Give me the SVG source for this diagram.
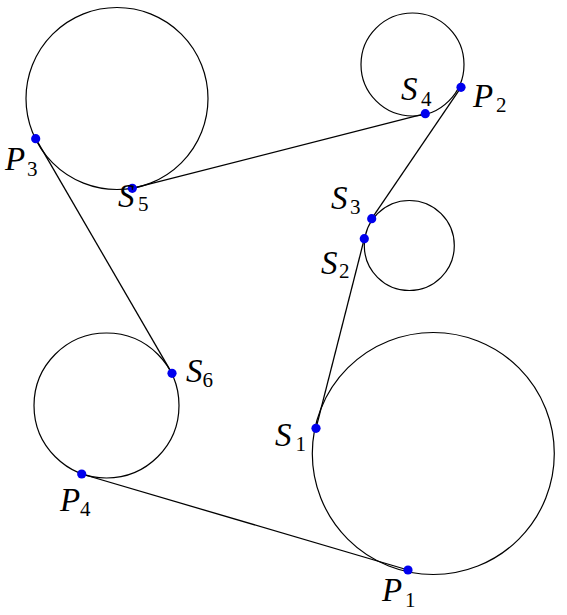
<svg xmlns="http://www.w3.org/2000/svg" width="567" height="615" viewBox="0 0 567 615">
<style>
.c{fill:none;stroke:#000;stroke-width:1.2}
.e{stroke:#000;stroke-width:1.3;fill:none}
.d{fill:#0000ee}
.l{font-family:"Liberation Serif",serif;font-style:italic;font-size:33px;fill:#000}
.s{font-family:"Liberation Serif",serif;font-style:normal;font-size:21px;fill:#000}
</style>
<rect width="567" height="615" fill="#fff"/>
<g id="circles">
<circle class="c" cx="117" cy="98.5" r="91"/>
<circle class="c" cx="412.5" cy="64.5" r="51.5"/>
<circle class="c" cx="409.3" cy="245.5" r="45"/>
<circle class="c" cx="433.3" cy="453.5" r="121"/>
<circle class="c" cx="106.5" cy="405.5" r="72.5"/>
</g>
<g id="connectors">
<line class="e" x1="81.7" y1="474" x2="408" y2="570"/>
<line class="e" x1="316" y1="428.3" x2="364.3" y2="238.7"/>
<line class="e" x1="371.7" y1="218.7" x2="461" y2="87.3"/>
<line class="e" x1="425.3" y1="113.7" x2="132.3" y2="188.3"/>
<line class="e" x1="35.7" y1="138.7" x2="172" y2="373.3"/>
</g>
<g id="P1"><circle class="d" cx="408" cy="570" r="4.6"/><text class="l" x="382" y="601">P</text><text class="s" x="405" y="607">1</text></g>
<g id="P2"><circle class="d" cx="461" cy="87.3" r="4.6"/><text class="l" x="473" y="107">P</text><text class="s" x="496" y="112">2</text></g>
<g id="P3"><circle class="d" cx="35.7" cy="138.7" r="4.6"/><text class="l" x="5" y="170">P</text><text class="s" x="27" y="175.5">3</text></g>
<g id="P4"><circle class="d" cx="81.7" cy="474" r="4.6"/><text class="l" x="60" y="510.5">P</text><text class="s" x="80" y="515.5">4</text></g>
<g id="S1"><circle class="d" cx="316" cy="428.3" r="4.6"/><text class="l" x="275" y="445.5">S</text><text class="s" x="295.5" y="450.5">1</text></g>
<g id="S2"><circle class="d" cx="364.3" cy="238.7" r="4.6"/><text class="l" x="321" y="273.5">S</text><text class="s" x="339" y="277.5">2</text></g>
<g id="S3"><circle class="d" cx="371.7" cy="218.7" r="4.6"/><text class="l" x="331" y="208.5">S</text><text class="s" x="350" y="213.5">3</text></g>
<g id="S4"><circle class="d" cx="425.3" cy="113.7" r="4.6"/><text class="l" x="401" y="99.5">S</text><text class="s" x="421" y="105.5">4</text></g>
<g id="S5"><circle class="d" cx="132.3" cy="188.3" r="4.6"/><text class="l" x="118" y="206.5">S</text><text class="s" x="138" y="210.5">5</text></g>
<g id="S6"><circle class="d" cx="172" cy="373.3" r="4.6"/><text class="l" x="186" y="381.5">S</text><text class="s" x="202.5" y="387">6</text></g>
</svg>
